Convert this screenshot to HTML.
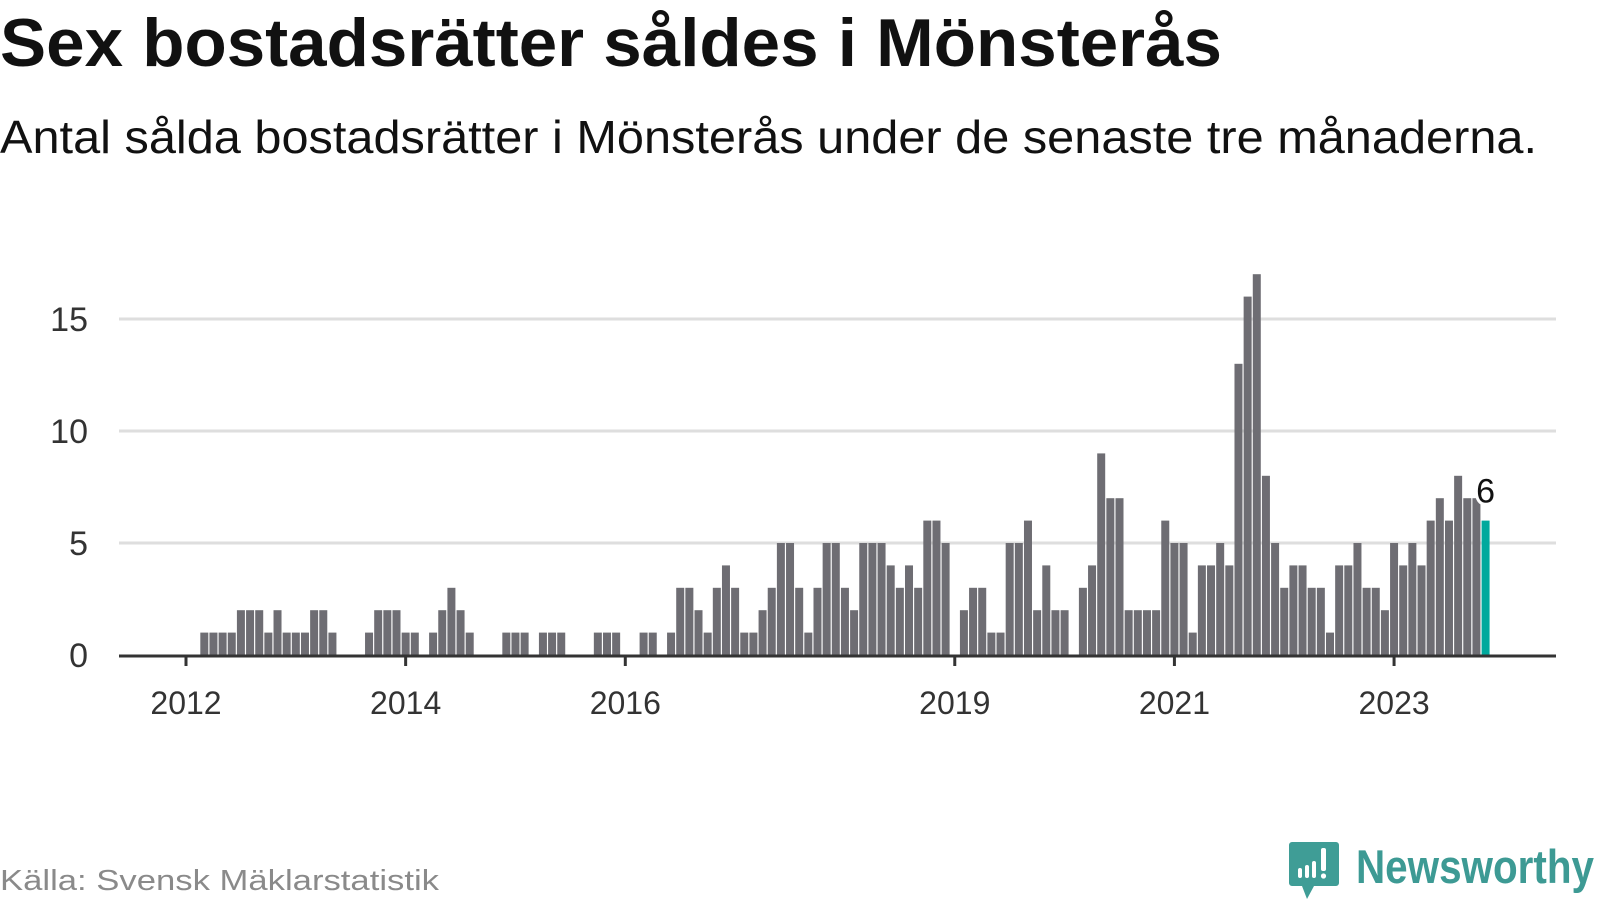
<!DOCTYPE html>
<html><head><meta charset="utf-8"><style>
html,body{margin:0;padding:0;background:#fff;width:1600px;height:900px;overflow:hidden}
svg{display:block;font-family:"Liberation Sans",sans-serif}
</style></head><body>
<svg id="chart" width="1600" height="900" viewBox="0 0 1600 900">
<text x="0" y="66" font-size="68" font-weight="bold" fill="#111" textLength="1222" lengthAdjust="spacingAndGlyphs">Sex bostadsrätter såldes i Mönsterås</text>
<text x="0" y="153" font-size="46" fill="#111" textLength="1537" lengthAdjust="spacingAndGlyphs">Antal sålda bostadsrätter i Mönsterås under de senaste tre månaderna.</text>
<g id="grid"></g>
<g id="bars"></g>
<g id="axis"></g>
<g id="yaxis"></g>
<text x="0" y="890" font-size="29" fill="#8a8a8a" textLength="439" lengthAdjust="spacingAndGlyphs">Källa: Svensk Mäklarstatistik</text>
<g>
<path d="M1292 842 h44 a3 3 0 0 1 3 3 v38 a3 3 0 0 1 -3 3 h-22 l-7 13 l-5 -13 h-10 a3 3 0 0 1 -3 -3 v-38 a3 3 0 0 1 3 -3z" fill="#3f9d96"/>
<rect x="1298" y="868" width="4" height="10" rx="2" fill="#fff"/>
<rect x="1305" y="865" width="4" height="13" rx="2" fill="#fff"/>
<rect x="1312" y="861" width="4" height="17" rx="2" fill="#fff"/>
<rect x="1321" y="848" width="5" height="23" rx="2" fill="#fff"/>
<circle cx="1323.5" cy="876" r="2.6" fill="#fff"/>
<text x="1356" y="883" font-size="47" font-weight="bold" fill="#3d9a94" textLength="238" lengthAdjust="spacingAndGlyphs">Newsworthy</text>
</g>
</svg>
<script>
const values = [0,0,1,1,1,1,2,2,2,1,2,1,1,1,2,2,1,0,0,0,1,2,2,2,1,1,0,1,2,3,2,1,0,0,0,1,1,1,0,1,1,1,0,0,0,1,1,1,0,0,1,1,0,1,3,3,2,1,3,4,3,1,1,2,3,5,5,3,1,3,5,5,3,2,5,5,5,4,3,4,3,6,6,5,0,2,3,3,1,1,5,5,6,2,4,2,2,0,3,4,9,7,7,2,2,2,2,6,5,5,1,4,4,5,4,13,16,17,8,5,3,4,4,3,3,1,4,4,5,3,3,2,5,4,5,4,6,7,6,8,7,7,6];
const startYear = 2012;
const yTicks = [0,5,10,15];
const xTickYears = [2012,2014,2016,2019,2021,2023];
const NS='http://www.w3.org/2000/svg';
const x = i => 186 + i*9.152;
const y = v => 655 - v*22.4;
function mk(tag, attrs, parent){const e=document.createElementNS(NS,tag);for(const k in attrs)e.setAttribute(k,attrs[k]);parent.appendChild(e);return e;}
const grid=document.getElementById('grid'), bars=document.getElementById('bars'), axis=document.getElementById('axis'), yaxis=document.getElementById('yaxis');
yTicks.forEach(t=>{
  if(t>0){const l=mk('line',{x1:119,x2:1556,y1:y(t),y2:y(t),stroke:'#dedede','stroke-width':3},grid);
  
  }
  const tx=mk('text',{x:88,y:y(t)+12,'text-anchor':'end','font-size':34,fill:'#333'},yaxis);
  tx.textContent=t;
  
  
});
const last=values.length-1;
values.forEach((v,i)=>{
  if(v<=0)return;
  const r=mk('rect',{x:x(i)-4,y:y(v),width:8,height:y(0)-y(v),fill:i===last?'#00a99d':'#6e6d73'},bars);
  
  
});
const lbl=mk('text',{x:x(last)+0,y:y(values[last])-18,'text-anchor':'middle','font-size':34,fill:'#111',stroke:'#fff','stroke-width':6,'paint-order':'stroke'},bars);
lbl.textContent=values[last];


const base=mk('line',{x1:119,x2:1556,y1:656,y2:656,stroke:'#333','stroke-width':3},axis);


xTickYears.forEach(yr=>{
  const i=(yr-startYear)*12;
  const tk=mk('line',{x1:x(i),x2:x(i),y1:656,y2:666,stroke:'#333','stroke-width':3},axis);
  
  
  const t=mk('text',{x:x(i),y:714,'text-anchor':'middle','font-size':32,fill:'#333'},axis);
  t.textContent=yr;
  
  
});
</script>
</body></html>
